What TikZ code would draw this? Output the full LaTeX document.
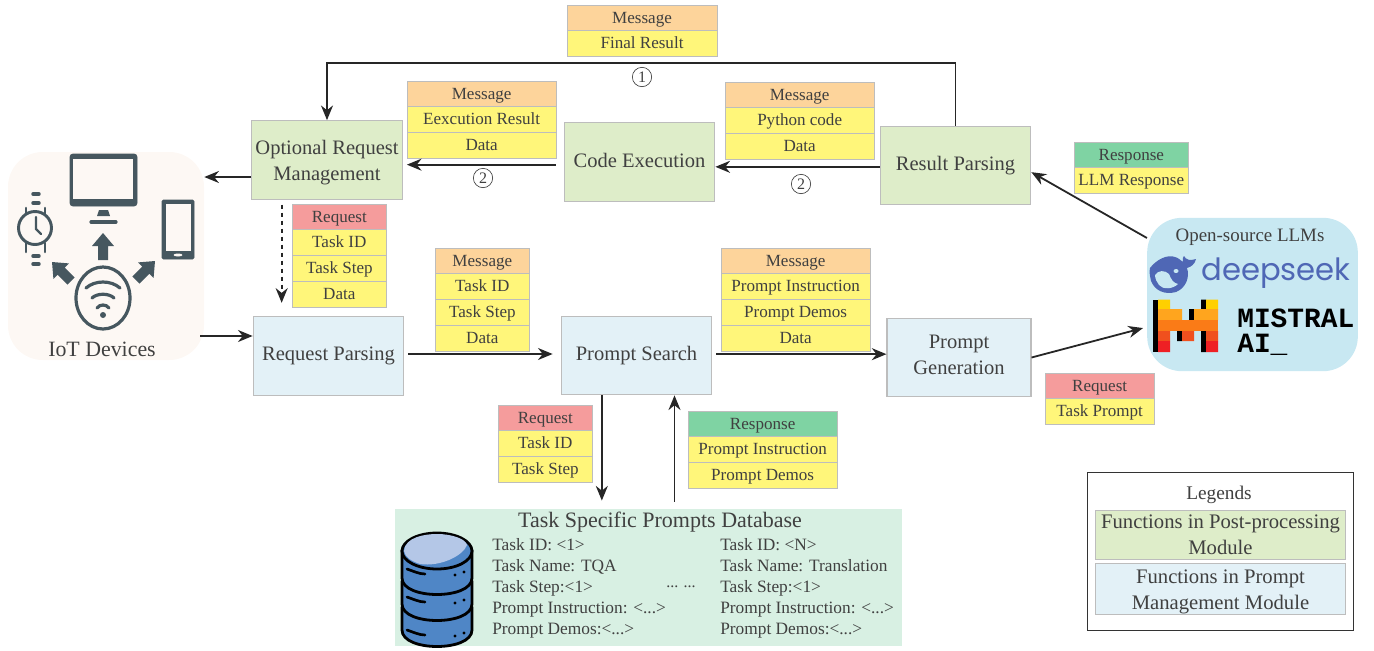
\documentclass[tikz,border=0pt]{standalone}
\usepackage{fontspec}
\setmainfont{Liberation Serif}
\newfontfamily\logofont{Poppins}
\newfontfamily\monofont{Liberation Mono}
\usetikzlibrary{positioning,arrows.meta,calc}

\definecolor{inktxt}{HTML}{404040}
\definecolor{edgegray}{HTML}{BDBDBD}
\definecolor{postgreen}{HTML}{DEEDC9}
\definecolor{promptblue}{HTML}{E3F1F7}
\definecolor{dbgreen}{HTML}{D8F0E3}
\definecolor{iotbg}{HTML}{FDF8F4}
\definecolor{llmbg}{HTML}{C8E8F2}
\definecolor{msgorange}{HTML}{FDD49B}
\definecolor{reqred}{HTML}{F59C9C}
\definecolor{respgreen}{HTML}{7FD3A3}
\definecolor{cellyellow}{HTML}{FFF67A}
\definecolor{iconslate}{HTML}{46575F}
\definecolor{seekblue}{HTML}{4F67B5}
\definecolor{stackblue}{HTML}{4F86C6}
\definecolor{stacktop}{HTML}{B4C7E7}
\definecolor{mistyellow}{HTML}{FFD000}
\definecolor{mistamber}{HTML}{FFA51E}
\definecolor{mistorange}{HTML}{FA7B17}
\definecolor{mistflame}{HTML}{F0501E}
\definecolor{mistred}{HTML}{EE2024}

\tikzset{
    cellbox/.style={draw=edgegray, line width=0.7pt, inner sep=0pt, outer sep=0pt, minimum height=19.4pt,
        text height=9.2pt, text depth=1.6pt, text=inktxt, font=\fontsize{12.8}{14}\selectfont},
    msgcell/.style={cellbox, fill=msgorange},
    reqcell/.style={cellbox, fill=reqred},
    respcell/.style={cellbox, fill=respgreen},
    datacell/.style={cellbox, fill=cellyellow},
    funcbox/.style={draw=edgegray, line width=0.8pt, align=center, inner sep=0pt, minimum width=113pt,
        minimum height=59pt, text=inktxt, font=\fontsize{15.4}{19.5}\selectfont},
    postbox/.style={funcbox, fill=postgreen},
    promptbox/.style={funcbox, fill=promptblue},
    link/.style={-{Stealth[length=11pt,width=9pt]}, line width=1.35pt, draw=black!85},
    steptag/.style={draw=inktxt, circle, line width=0.5pt, inner sep=0pt, minimum size=14.5pt, text=inktxt, font=\fontsize{12}{14}\selectfont},
    dbtext/.style={anchor=west, align=left, inner sep=0pt, text=inktxt, font=\fontsize{13}{15.75}\selectfont},
    iotarrow/.pic={\fill[iconslate] (0,0) -- (11,13) -- (5,13) -- (5,27) -- (-5,27) -- (-5,13) -- (-11,13) -- cycle;}
}

\begin{document}
\begin{tikzpicture}[x=0.75pt,y=-0.75pt]
    \useasboundingbox (0,0) rectangle (1374,650);

    % panels
    \node[fill=iotbg, rounded corners=26pt, minimum width=147pt, minimum height=156pt, inner sep=0pt] (iot) at (106,256) {};
    \node[fill=llmbg, rounded corners=26pt, minimum width=158pt, minimum height=115pt, inner sep=0pt] (llm) at (1252.5,294.5) {};
    \node[fill=dbgreen, minimum width=380pt, minimum height=103pt, inner sep=0pt] (db) at (648.5,577.5) {};
    \node[draw=black!80, line width=0.7pt, fill=white, minimum width=199.5pt, minimum height=118pt, inner sep=0pt] (legend) at (1220,551.5) {};

    % functions
    \node[postbox] (optreq) at (327,160) {\rule{0pt}{14pt}Optional Request\\Management};
    \node[postbox] (codeexec) at (639.5,162) {\rule[-3pt]{0pt}{1pt}Code Execution};
    \node[postbox] (resultparse) at (955.5,165.5) {Result Parsing};
    \node[promptbox] (reqparse) at (328.5,356) {Request Parsing};
    \node[promptbox] (promptsearch) at (636.5,355.5) {Prompt Search};
    \node[promptbox, minimum width=108pt] (promptgen) at (959,357.5) {Prompt\\Generation\rule[-4pt]{0pt}{1pt}};

    % messages
    \node[msgcell, minimum width=112.5pt, anchor=north west] (finalhead) at (567,5) {Message};
    \node[datacell, minimum width=112.5pt, below=0pt of finalhead] (finalres) {Final Result};

    \node[msgcell, minimum width=112pt, anchor=north west] (exechead) at (407,81) {Message};
    \node[datacell, minimum width=112pt, below=0pt of exechead] (execres) {Eexcution Result};
    \node[datacell, minimum width=112pt, below=0pt of execres] (execdata) {Data};

    \node[msgcell, minimum width=112pt, anchor=north west] (codehead) at (725,82) {Message};
    \node[datacell, minimum width=112pt, below=0pt of codehead] (codepy) {Python code};
    \node[datacell, minimum width=112pt, below=0pt of codepy] (codedata) {Data};

    \node[respcell, minimum width=86pt, anchor=north west] (llmhead) at (1074,142) {Response};
    \node[datacell, minimum width=86pt, below=0pt of llmhead] (llmresp) {LLM Response};

    \node[reqcell, minimum width=71pt, anchor=north west] (opthead) at (292,204) {Request};
    \node[datacell, minimum width=71pt, below=0pt of opthead] (optid) {Task ID};
    \node[datacell, minimum width=71pt, below=0pt of optid] (optstep) {Task Step};
    \node[datacell, minimum width=71pt, below=0pt of optstep] (optdata) {Data};

    \node[msgcell, minimum width=71pt, anchor=north west] (parsehead) at (435,248) {Message};
    \node[datacell, minimum width=71pt, below=0pt of parsehead] (parseid) {Task ID};
    \node[datacell, minimum width=71pt, below=0pt of parseid] (parsestep) {Task Step};
    \node[datacell, minimum width=71pt, below=0pt of parsestep] (parsedata) {Data};

    \node[msgcell, minimum width=112pt, anchor=north west] (searchhead) at (721,248) {Message};
    \node[datacell, minimum width=112pt, below=0pt of searchhead] (searchinst) {Prompt Instruction};
    \node[datacell, minimum width=112pt, below=0pt of searchinst] (searchdemo) {Prompt Demos};
    \node[datacell, minimum width=112pt, below=0pt of searchdemo] (searchdata) {Data};

    \node[reqcell, minimum width=82pt, anchor=north west] (genhead) at (1045,373) {Request};
    \node[datacell, minimum width=82pt, below=0pt of genhead] (genprompt) {Task Prompt};

    \node[reqcell, minimum width=71pt, anchor=north west] (dbreqhead) at (498,405) {Request};
    \node[datacell, minimum width=71pt, below=0pt of dbreqhead] (dbreqid) {Task ID};
    \node[datacell, minimum width=71pt, below=0pt of dbreqid] (dbreqstep) {Task Step};

    \node[respcell, minimum width=112pt, anchor=north west] (dbresphead) at (688,411) {Response};
    \node[datacell, minimum width=112pt, below=0pt of dbresphead] (dbrespinst) {Prompt Instruction};
    \node[datacell, minimum width=112pt, below=0pt of dbrespinst] (dbrespdemo) {Prompt Demos};

    % step numbers
    \node[steptag] (stepone) at (642,77) {1};
    \node[steptag] (steptwoa) at (483,178) {2};
    \node[steptag] (steptwob) at (801,184) {2};

    % connectors
    \draw[link] (resultparse.north) -- ++(0,-63) -| (optreq.north);
    \draw[link, shorten <=6pt, shorten >=3pt] ([yshift=-2pt]codeexec.west) -- ([yshift=-2pt]codeexec.west -| optreq.east);
    \draw[link] ([yshift=-1pt]resultparse.west) -- ([yshift=-1pt]resultparse.west -| codeexec.east);
    \draw[link] ([yshift=-12.75pt]optreq.west) -- ([yshift=-12.75pt]optreq.west -| iot.east);
    \draw[link, dashed, shorten <=3.5pt, shorten >=10pt] ([xshift=-34pt]optreq.south) -- ([xshift=-34pt]optreq.south |- reqparse.north);
    \draw[link, shorten <=-3pt] ([yshift=15pt]iot.east |- reqparse.west) -- ([yshift=15pt]reqparse.west);
    \draw[link, shorten <=3pt, shorten >=6pt] ([yshift=1.5pt]reqparse.east) -- ([yshift=1.5pt]reqparse.east -| promptsearch.west);
    \draw[link, shorten <=3pt] ([yshift=1pt]promptsearch.east) -- ([yshift=1pt]promptsearch.east -| promptgen.west);
    \draw[link, shorten >=3pt] (promptgen.east) -- ([yshift=-24.4pt]llm.west);
    \draw[link] ([yshift=42.4pt]llm.west) -- ([yshift=-5pt]resultparse.east);
    \draw[link, shorten >=6pt] ([xshift=-26pt]promptsearch.south) -- ([xshift=-26pt]promptsearch.south |- db.north);
    \draw[link, shorten <=5pt] ([xshift=28.5pt]promptsearch.south |- db.north) -- ([xshift=28.5pt]promptsearch.south);

    % iot panel
    \node[inner sep=0pt, text=inktxt, font=\fontsize{16.4}{18}\selectfont] (iotlabel) at (102,349) {IoT Devices};
    \filldraw[iconslate, fill=iconslate, rounded corners=2pt] (70,154) rectangle (137,206);
    \fill[iotbg] (73,159) rectangle (133,199);
    \fill[iconslate] (99,210) -- (108,210) -- (110,216) -- (97,216) -- cycle;
    \draw[iconslate, line width=2.4pt, line cap=round] (91,222) -- (116,222);
    \pic at (103,233) {iotarrow};
    \pic[rotate=45] at (52,262) {iotarrow};
    \pic[rotate=-45] at (155,261) {iotarrow};
    \filldraw[iconslate, fill=iconslate, rounded corners=1pt] (162,200) rectangle (194,259);
    \fill[iotbg] (166,204) rectangle (191,251);
    \fill[iotbg] (178,255) ellipse (4.5 and 1.5);
    % watch
    \draw[iconslate, line width=2.2pt] (35,228) circle (16.5);
    \draw[iconslate, line width=1.7pt, line cap=round] (36,217) -- (36,229) -- (41,234);
    \draw[iconslate, line width=1.9pt, line cap=round] (26,208) -- (26,214) (45,208) -- (45,214) (26,243) -- (26,252) (45,243) -- (45,252);
    \foreach \y in {194,203,256,264}
        \draw[iconslate, line width=2.6pt, line cap=round] (33,\y) -- (39,\y);
    % wifi
    \draw[iconslate, line width=2.4pt] (103,298) ellipse (27 and 31);
    \draw[iconslate, line width=2.4pt, line cap=round] (86,288) .. controls (95,280) and (111,280) .. (120,288);
    \draw[iconslate, line width=2.4pt, line cap=round] (92,298) .. controls (97,293) and (109,293) .. (114,298);
    \draw[iconslate, line width=2.4pt, line cap=round] (97,308) .. controls (100,304) and (106,304) .. (109,308);
    \fill[iconslate] (103,315) circle (3);

    % llm panel
    \node[inner sep=0pt, text=inktxt, font=\fontsize{14.2}{18}\selectfont] (llmlabel) at (1250,237) {Open-source LLMs};
    \node[inner sep=0pt, text=seekblue, font=\logofont\fontsize{23}{25}\selectfont] (seektext) at (1276,273) {deepseek};
    \node[inner sep=0pt, anchor=west, font=\monofont\bfseries\fontsize{20.9}{25}\selectfont] (mistraltext) at (1237,318) {MISTRAL};
    \node[inner sep=0pt, anchor=west, font=\monofont\bfseries\fontsize{20.9}{25}\selectfont] (aitext) at (1237,345) {AI\_};
    % whale
    \fill[seekblue] (1150,268) .. controls (1156,260) and (1167,254) .. (1175,257) .. controls (1179,258) and (1181,261) .. (1183,262)
        .. controls (1182,259) and (1183,257) .. (1184,256) .. controls (1186,260) and (1190,261) .. (1196,259)
        .. controls (1195,264) and (1191,267) .. (1187,268) .. controls (1190,277) and (1186,288) .. (1176,292)
        .. controls (1165,295) and (1155,291) .. (1151,281) .. controls (1150,276) and (1149,272) .. (1150,268) -- cycle;
    \fill[llmbg] (1155,275) .. controls (1158,270) and (1165,270) .. (1169,274) .. controls (1171,279) and (1173,283) .. (1178,284)
        .. controls (1173,289) and (1163,290) .. (1159,285) .. controls (1157,282) and (1155,279) .. (1155,275) -- cycle;
    \fill[llmbg] (1176,271) ellipse (2.5 and 2);
    % mistral m
    \fill[black] (1153,299.5) rectangle (1158,352);
    \fill[black] (1189,309) rectangle (1194,320) (1177,331) rectangle (1182,341) (1201,299.5) rectangle (1206,320) (1201,331) rectangle (1206,352);
    \fill[mistyellow] (1158,299.5) rectangle (1170,309) (1206,299.5) rectangle (1218,309);
    \fill[mistamber] (1158,309) rectangle (1182,320) (1194,309) rectangle (1218,320);
    \fill[mistorange] (1158,320) rectangle (1218,331);
    \fill[mistflame] (1158,331) rectangle (1170,341) (1182,331) rectangle (1194,341) (1206,331) rectangle (1218,341);
    \fill[mistred] (1158,341) rectangle (1170,352) (1206,341) rectangle (1218,352);

    % database panel
    \node[inner sep=0pt, text=inktxt, font=\fontsize{16.5}{19}\selectfont] (dbtitle) at (660,522) {Task Specific Prompts Database};
    \node[dbtext] (dbfirst) at (492,588.5) {Task ID: <1>\\Task Name: TQA\\Task Step:<1>\\Prompt Instruction: <...>\\Prompt Demos:<...>};
    \node[dbtext] (dblast) at (720,588.5) {Task ID: <N>\\Task Name: Translation\\Task Step:<1>\\Prompt Instruction: <...>\\Prompt Demos:<...>};
    \node[inner sep=0pt, text=inktxt, font=\fontsize{12}{15}\selectfont] (dbdots) at (681,587) {... ...};
    % stack icon
    \foreach \top/\bot in {608/630,582/604,551/578}
        \draw[black, fill=stackblue, line width=2.1pt] (402,\top) -- (402,\bot) .. controls (402,\bot+22) and (472,\bot+22) .. (472,\bot) -- (472,\top) -- cycle;
    \draw[black, fill=stackblue, line width=2.1pt] (437,551) ellipse (35 and 18);
    \fill[stacktop] (404,551) .. controls (405,537) and (425,534) .. (437,534) .. controls (452,534) and (466,539) .. (467,545) .. controls (463,556) and (440,567) .. (420,564) .. controls (411,561) and (405,557) .. (404,551) -- cycle;
    \foreach \y in {569,597,630} {
        \draw[black, line width=2pt, line cap=round] (407,\y) .. controls (413,\y+2) and (419,\y+5) .. (425,\y+5);
        \fill[black] (455,\y+6) circle (1.7) (464,\y+3) circle (1.7);
    }

    % legends
    \node[inner sep=0pt, text=inktxt, font=\fontsize{14.5}{18}\selectfont] (legendtitle) at (1219,495) {Legends};
    \node[draw=edgegray, fill=postgreen, line width=0.7pt, minimum width=188pt, minimum height=37pt, inner sep=0pt, align=center, text=inktxt, font=\fontsize{15.5}{19.5}\selectfont] (legendpost) at (1220.5,535) {Functions in Post-processing\\Module};
    \node[draw=edgegray, fill=promptblue, line width=0.7pt, minimum width=188pt, minimum height=36pt, inner sep=0pt, align=center, text=inktxt, font=\fontsize{15.5}{19.5}\selectfont] (legendprompt) at (1220.5,589) {\rule{0pt}{15pt}Functions in Prompt\\Management Module};
\end{tikzpicture}
\end{document}
